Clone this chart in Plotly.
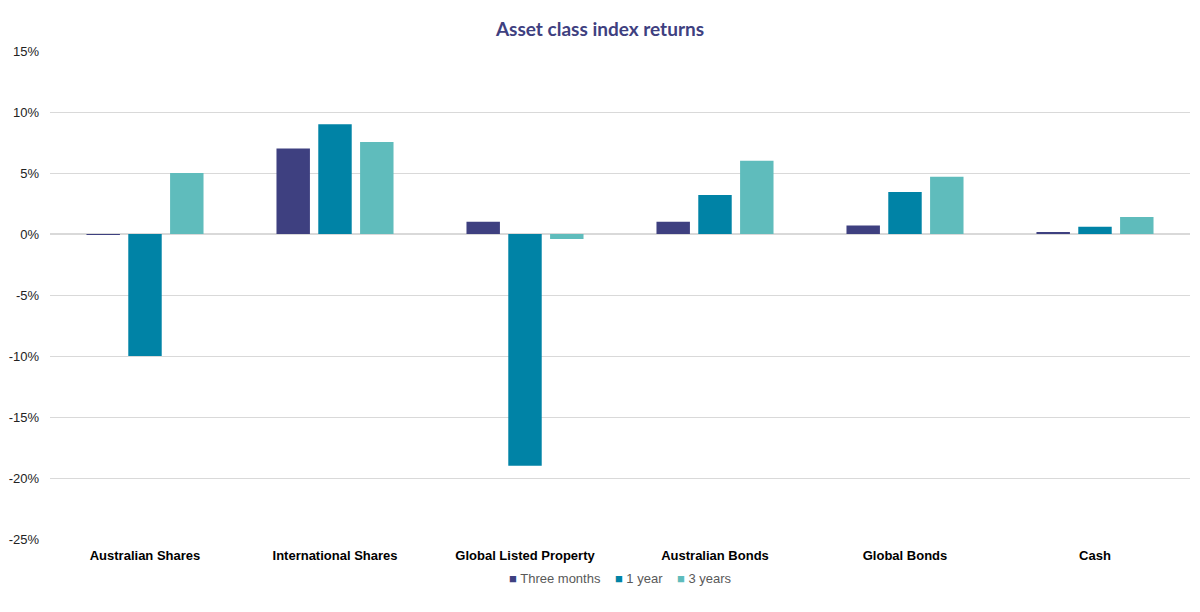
import plotly.graph_objects as go

categories = ["Australian Shares", "International Shares", "Global Listed Property",
              "Australian Bonds", "Global Bonds", "Cash"]
three_months = [-0.05, 7.0, 1.0, 1.0, 0.7, 0.1]
one_year = [-10.0, 9.0, -19.0, 3.2, 3.45, 0.6]
three_years = [5.0, 7.55, -0.4, 6.0, 4.7, 1.4]
series_names = ["Three months", "1 year", "3 years"]
colors = ["#3E4080", "#0083A6", "#5FBCBC"]
y_ticks = [15, 10, 5, 0, -5, -10, -15, -20, -25]

fig = go.Figure()
for name, vals, c in zip(series_names, [three_months, one_year, three_years], colors):
    fig.add_trace(go.Bar(x=categories, y=vals, name=name, marker_color=c,
                         marker_line_width=0, showlegend=False))

# compact legend drawn as text entries
legend_text = "&nbsp;&nbsp;&nbsp;&nbsp;".join(
    f"<span style='color:{c}'>■</span> {n}" for n, c in zip(series_names, colors))
fig.add_annotation(text=legend_text, xref="paper", yref="paper", x=0.5, y=-0.08,
                   xanchor="center", yanchor="middle", showarrow=False,
                   font=dict(family="Liberation Sans", size=13, color="#595959"))

fig.update_layout(
    width=1200, height=612,
    margin=dict(l=50, r=10, t=51, b=73),
    plot_bgcolor="white", paper_bgcolor="white",
    barmode="group", bargap=0.34, bargroupgap=0.2,
    title=dict(text="<b>Asset class index returns</b>", x=0.5, xanchor="center",
               y=1 - 29/612, yanchor="middle",
               font=dict(family="Lato", size=19, color="#3E4080")),
    font=dict(family="Liberation Sans", size=13, color="#222222"),
    xaxis=dict(tickfont=dict(size=13, color="#000000", family="Liberation Sans"),
               tickprefix="<b>", ticksuffix="</b>", showgrid=False, showline=False,
               ticks="", ticklabelstandoff=7),
    yaxis=dict(range=[-25, 15], tickvals=y_ticks, ticktext=[f"{v}%" for v in y_ticks],
               gridcolor="#D9D9D9", gridwidth=1, zeroline=True, zerolinecolor="#D9D9D9",
               zerolinewidth=2, showline=False, ticks="", ticklen=0,
               ticklabelstandoff=10,
               tickfont=dict(size=13, color="#222222")),
)
fig.write_html("out.html")
